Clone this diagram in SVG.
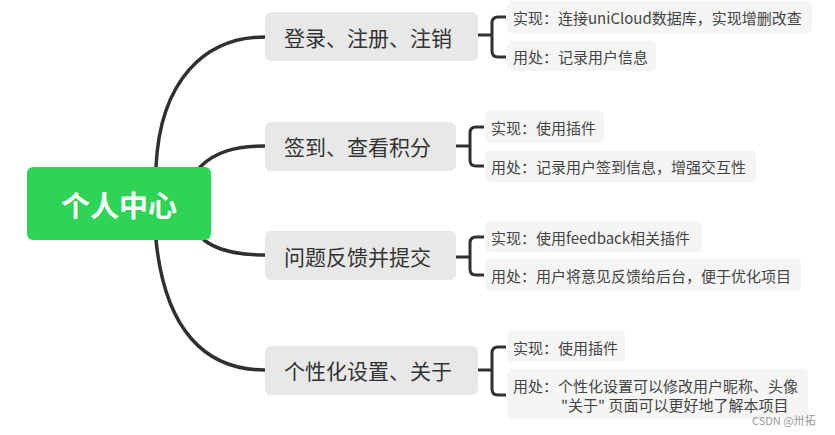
<svg xmlns="http://www.w3.org/2000/svg" width="835" height="435" viewBox="0 0 835 435">
<style>
text{font-family:"Microsoft YaHei","Noto Sans CJK SC","Noto Sans",sans-serif;dominant-baseline:central}
.br rect{fill:#e8e8e8}
.br text{font-size:21px;fill:#333}
.lf rect{fill:#f5f5f5}
.lf text{font-size:15px;fill:#444}
.c{fill:none;stroke:#303030;stroke-width:3.5;stroke-linecap:round}
.b{fill:none;stroke:#303030;stroke-width:3;stroke-linejoin:round}
</style>
<rect width="835" height="435" fill="#fff"/>
<g id="connectors">
<path class="c" d="M156,167 C160,80 205,37 265,37"/>
<path class="c" d="M200,167 C215,152 235,146 265,146"/>
<path class="c" d="M204,240 C218,251 238,255 265,255"/>
<path class="c" d="M156,240 C165,330 205,370 265,370"/>
<path class="b" d="M478,35 H492 M506,17 H498 Q492,17 492,23 V51 Q492,57 498,57 H506"/>
<path class="b" d="M456,146 H470 M484,127 H476 Q470,127 470,133 V160 Q470,166 476,166 H484"/>
<path class="b" d="M456,257 H470 M484,237 H476 Q470,237 470,243 V269 Q470,275 476,275 H484"/>
<path class="b" d="M478,370 H492 M506,347 H498 Q492,347 492,353 V389 Q492,395 498,395 H506"/>
</g>
<g id="root">
<rect x="27" y="167" width="184" height="73" rx="6" fill="#2dd455"/>
<text x="119" y="204" text-anchor="middle" font-size="29" font-weight="bold" fill="#fff">个人中心</text>
</g>
<g id="n1" class="br">
<rect x="265" y="12" width="213" height="49" rx="6"/>
<text x="284" y="37">登录、注册、注销</text>
</g>
<g id="n2" class="br">
<rect x="265" y="122" width="191" height="49" rx="6"/>
<text x="284" y="146">签到、查看积分</text>
</g>
<g id="n3" class="br">
<rect x="265" y="231" width="191" height="49" rx="6"/>
<text x="284" y="256">问题反馈并提交</text>
</g>
<g id="n4" class="br">
<rect x="265" y="346" width="213" height="49" rx="6"/>
<text x="284" y="370">个性化设置、关于</text>
</g>
<g id="l1a" class="lf">
<rect x="507" y="1" width="305" height="32" rx="5"/>
<text x="513" y="17">实现：连接uniCloud数据库，实现增删改查</text>
</g>
<g id="l1b" class="lf">
<rect x="507" y="41" width="149" height="30" rx="5"/>
<text x="513" y="56">用处：记录用户信息</text>
</g>
<g id="l2a" class="lf">
<rect x="485" y="111" width="119" height="32" rx="5"/>
<text x="491" y="127">实现：使用插件</text>
</g>
<g id="l2b" class="lf">
<rect x="485" y="150" width="271" height="32" rx="5"/>
<text x="491" y="166">用处：记录用户签到信息，增强交互性</text>
</g>
<g id="l3a" class="lf">
<rect x="485" y="221" width="217" height="31" rx="5"/>
<text x="491" y="237">实现：使用feedback相关插件</text>
</g>
<g id="l3b" class="lf">
<rect x="485" y="259" width="316" height="32" rx="5"/>
<text x="491" y="275">用处：用户将意见反馈给后台，便于优化项目</text>
</g>
<g id="l4a" class="lf">
<rect x="507" y="331" width="118" height="31" rx="5"/>
<text x="513" y="347">实现：使用插件</text>
</g>
<g id="l4b" class="lf">
<rect x="507" y="369" width="301" height="50" rx="5"/>
<text x="513" y="385">用处：个性化设置可以修改用户昵称、头像</text>
<text x="561" y="404">"关于" 页面可以更好地了解本项目</text>
</g>
<text x="752" y="420" font-size="11" fill="#999">CSDN @卅拓</text>
</svg>
